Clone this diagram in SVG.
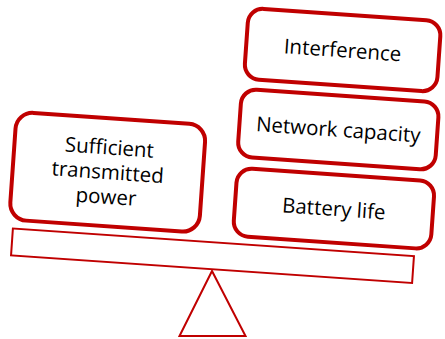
<svg xmlns="http://www.w3.org/2000/svg" width="445" height="339" viewBox="0 0 445 339">
<style>
.box{fill:#fff;stroke:#C00000;stroke-width:4}
.beam{fill:#fff;stroke:#C00000;stroke-width:2}
text{font-family:"Open Sans","Liberation Sans",sans-serif;font-size:20.5px;fill:#000;text-anchor:middle}
</style>
<rect width="445" height="339" fill="#fff"/>
<g id="fulcrum"><polygon class="beam" points="212,271 245.5,336 179.5,336"/></g>
<g id="beam" transform="translate(212.5,255.75) rotate(3.93)"><rect class="beam" x="-201" y="-13.5" width="402" height="27"/></g>
<g id="node-power" transform="translate(107.7,172.2) rotate(4)">
<rect class="box" x="-95" y="-54" width="190" height="108" rx="17"/>
<text x="0" y="-17.7">Sufficient</text>
<text x="0" y="7">transmitted</text>
<text x="0" y="31.7">power</text>
</g>
<g id="node-interference" transform="translate(342.6,50) rotate(4)">
<rect class="box" x="-96.5" y="-35.5" width="193" height="71" rx="15"/>
<text x="0" y="7.3">Interference</text>
</g>
<g id="node-capacity" transform="translate(338.3,129.5) rotate(4)">
<rect class="box" x="-99" y="-34" width="198" height="68" rx="15"/>
<text x="0" y="7.3">Network capacity</text>
</g>
<g id="node-battery" transform="translate(333.9,208.6) rotate(4)">
<rect class="box" x="-99" y="-34" width="198" height="68" rx="15"/>
<text x="0" y="7.3">Battery life</text>
</g>
<g id="connectors"/>
</svg>
